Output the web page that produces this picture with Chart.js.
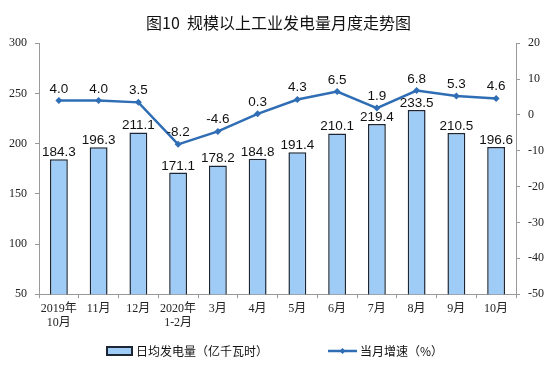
<!DOCTYPE html>
<html><head><meta charset="utf-8">
<script src="https://cdn.jsdelivr.net/npm/chart.js@4"></script>
<style>html,body{margin:0;padding:0;background:#fff;}#wrap{width:557px;height:384px;position:relative;}</style>
</head><body><div id="wrap"><canvas id="c" width="557" height="384"></canvas></div>
<script>
const categories = [["2019年","10月"],"11月","12月",["2020年","1-2月"],"3月","4月","5月","6月","7月","8月","9月","10月"];
const dailyOutput = [184.3,196.3,211.1,171.1,178.2,184.8,191.4,210.1,219.4,233.5,210.5,196.6];
const monthGrowth = [4.0,4.0,3.5,-8.2,-4.6,0.3,4.3,6.5,1.9,6.8,5.3,4.6];
const leftTicks = [50,100,150,200,250,300];
const rightTicks = [-50,-40,-30,-20,-10,0,10,20];
const seriesNames = ['日均发电量（亿千瓦时）','当月增速（%）'];

const barFill = '#9fcbf7', barBorder = '#1c2733', lineColor = '#2f6db5';
const serif = '"Liberation Serif","Noto Sans CJK SC",serif';
const sans = '"Liberation Sans","Noto Sans CJK SC",sans-serif';
const cjk = '"Noto Sans CJK SC","Liberation Sans",sans-serif';

const labelPlugin = {
  id:'valueLabels',
  afterDatasetsDraw(chart){
    const ctx=chart.ctx;ctx.save();
    ctx.font='13.5px '+sans;ctx.fillStyle='#111';ctx.textAlign='center';ctx.textBaseline='alphabetic';
    chart.getDatasetMeta(0).data.forEach((el,i)=>{ctx.fillText(dailyOutput[i].toFixed(1),el.x,el.y-3);});
    chart.getDatasetMeta(1).data.forEach((el,i)=>{ctx.fillText(monthGrowth[i].toFixed(1),el.x,el.y-8);});
    ctx.restore();
  }
};

const legendPlugin = {
  id:'customLegend',
  afterDraw(chart){
    const ctx=chart.ctx;ctx.save();
    const y=351;
    ctx.fillStyle=barFill;ctx.fillRect(107,y-4,25,8);
    ctx.strokeStyle=barBorder;ctx.lineWidth=2;ctx.strokeRect(107,y-4,25,8);
    ctx.font='12px '+cjk;ctx.fillStyle='#111';ctx.textAlign='left';ctx.textBaseline='middle';
    ctx.fillText(seriesNames[0],136,y);
    ctx.strokeStyle=lineColor;ctx.lineWidth=2.5;ctx.beginPath();ctx.moveTo(328,y);ctx.lineTo(357,y);ctx.stroke();
    ctx.fillStyle=lineColor;ctx.beginPath();ctx.moveTo(342.5,y-3);ctx.lineTo(345.5,y);ctx.lineTo(342.5,y+3);ctx.lineTo(339.5,y);ctx.closePath();ctx.fill();
    ctx.fillStyle='#111';ctx.fillText(seriesNames[1],360,y);
    ctx.restore();
  }
};

new Chart(document.getElementById('c'),{
  data:{labels:categories,datasets:[
    {type:'bar',label:seriesNames[0],data:dailyOutput,yAxisID:'y',backgroundColor:barFill,borderColor:barBorder,borderWidth:1.5,barPercentage:0.45,categoryPercentage:1,order:2},
    {type:'line',label:seriesNames[1],data:monthGrowth,yAxisID:'y1',borderColor:lineColor,backgroundColor:lineColor,borderWidth:2.5,pointStyle:'rectRot',pointRadius:3.5,pointBackgroundColor:lineColor,pointBorderWidth:0,tension:0,order:1}
  ]},
  options:{
    responsive:false,animation:false,
    layout:{padding:{left:0,right:0,top:0,bottom:51}},
    plugins:{
      title:{display:true,text:'图10  规模以上工业发电量月度走势图',font:{family:cjk,size:16,weight:'normal'},color:'#111',padding:{top:13,bottom:11}},
      legend:{display:false},
      tooltip:{enabled:false}
    },
    scales:{
      x:{offset:true,grid:{display:true,drawOnChartArea:false,offset:true,tickLength:4,color:'#999'},border:{color:'#999'},ticks:{font:{family:serif,size:12},color:'#222',maxRotation:0,padding:3}},
      y:{position:'left',min:50,max:300,afterBuildTicks(s){s.ticks=leftTicks.map(v=>({value:v}));},afterFit(s){s.width=39;},grid:{display:true,drawOnChartArea:false,tickLength:4,color:'#999'},border:{color:'#999'},ticks:{font:{family:serif,size:12},color:'#222',padding:8}},
      y1:{position:'right',min:-50,max:20,afterBuildTicks(s){s.ticks=rightTicks.map(v=>({value:v}));},afterFit(s){s.width=41;},grid:{display:true,drawOnChartArea:false,tickLength:4,color:'#999'},border:{color:'#999'},ticks:{font:{family:serif,size:12},color:'#222',padding:8}}
    }
  },
  plugins:[labelPlugin,legendPlugin]
});
</script></body></html>
